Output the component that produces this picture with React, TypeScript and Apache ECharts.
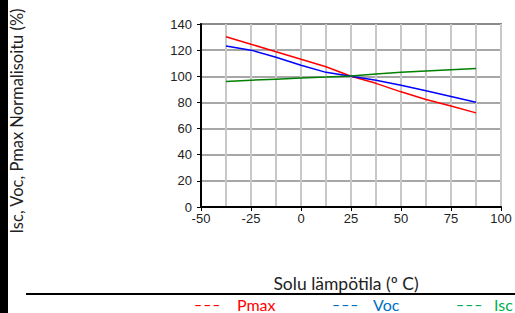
import React, { useEffect, useRef } from "react";
import * as echarts from "echarts";

const temps = [-37.5, -25, -12.5, 0, 12.5, 25, 37.5, 50, 62.5, 75, 87.5];
const pmax = [130.3, 124.5, 118.8, 113, 107.3, 100, 94.6, 88.1, 82.3, 77.2, 72];
const voc = [123.1, 120, 114.5, 108.5, 103, 100, 97, 93.2, 88.9, 84.6, 80.2];
const isc = [96.1, 97, 97.8, 98.6, 99.4, 100.3, 101.8, 103, 104, 105, 106];
const seriesNames = ["Pmax", "Voc", "Isc"];
const lineColors = ["#ff0000", "#0000ff", "#008000"];
const legendColors = ["#ff0000", "#0070c0", "#00b050"];
const yTitle = "Isc, Voc, Pmax Normalisoitu (%)";
const xTitle = "Solu lämpötila (º C)";

export default function App() {
  const ref = useRef<HTMLDivElement>(null);
  useEffect(() => {
    if (!ref.current) return;
    const chart = echarts.init(ref.current, null, { renderer: "svg" });
    const allData = [pmax, voc, isc];
    const legendX = [195, 333, 457];
    const textX = [237, 373, 494];
    chart.setOption({
      animation: false,
      grid: {
        left: 201,
        top: 24,
        width: 300,
        height: 183,
        show: true,
        borderColor: "#8a8a8a",
        borderWidth: 2,
      },
      xAxis: {
        type: "value",
        min: -50,
        max: 100,
        interval: 25,
        axisLine: { show: true, onZero: false, lineStyle: { color: "#000", width: 2 } },
        axisTick: { show: true, inside: false, length: 4, lineStyle: { color: "#000" } },
        axisLabel: {
          margin: 5,
          color: "#222",
          fontSize: 13,
          fontFamily: "Liberation Sans",
        },
        splitLine: { show: true, lineStyle: { color: "#c8c8c8", width: 2 } },
        minorTick: { show: false, splitNumber: 2 },
        minorSplitLine: { show: true, lineStyle: { color: "#c8c8c8", width: 2 } },
      },
      yAxis: {
        type: "value",
        min: 0,
        max: 140,
        interval: 20,
        axisLine: { show: true, onZero: false, lineStyle: { color: "#000", width: 2 } },
        axisTick: { show: true, inside: false, length: 4, lineStyle: { color: "#000" } },
        axisLabel: {
          margin: 9,
          color: "#222",
          fontSize: 13,
          fontFamily: "Liberation Sans",
        },
        splitLine: { show: true, lineStyle: { color: "#8a8a8a", width: 1.5 } },
      },
      series: allData.map((d, i) => ({
        name: seriesNames[i],
        type: "line",
        showSymbol: false,
        symbol: "none",
        data: temps.map((t, j) => [t, d[j]]),
        lineStyle: { color: lineColors[i], width: 1.5 },
        itemStyle: { color: lineColors[i] },
        z: 3,
      })),
      graphic: [
        { type: "rect", left: 0, top: 0, shape: { width: 8, height: 313 }, style: { fill: "#000" } },
        {
          type: "text",
          x: 17,
          y: 121,
          rotation: Math.PI / 2,
          style: {
            text: yTitle,
            fill: "#222",
            font: "16.5px Lato",
            textAlign: "center",
            textVerticalAlign: "middle",
          },
        },
        {
          type: "text",
          x: 346,
          y: 283,
          style: {
            text: xTitle,
            fill: "#222",
            font: "17.5px Lato",
            textAlign: "center",
            textVerticalAlign: "middle",
          },
        },
        {
          type: "line",
          shape: { x1: 26, y1: 294, x2: 515, y2: 294 },
          style: { stroke: "#000", lineWidth: 2 },
        },
        ...seriesNames.flatMap((n, i) => [
          {
            type: "text",
            x: legendX[i],
            y: 305,
            style: {
              text: "– – –",
              fill: legendColors[i],
              font: "bold 11px 'Liberation Sans'",
              lineHeight: 11,
              textVerticalAlign: "middle",
            },
          },
          {
            type: "text",
            x: textX[i],
            y: 304.5,
            style: {
              text: n,
              fill: legendColors[i],
              font: "16px Lato",
              lineHeight: 16,
              textVerticalAlign: "middle",
            },
          },
        ]),
      ],
    });
    return () => chart.dispose();
  }, []);
  return (
    <div
      ref={ref}
      style={{ position: "fixed", left: 0, top: 0, width: 515, height: 313, background: "#fff" }}
    />
  );
}
